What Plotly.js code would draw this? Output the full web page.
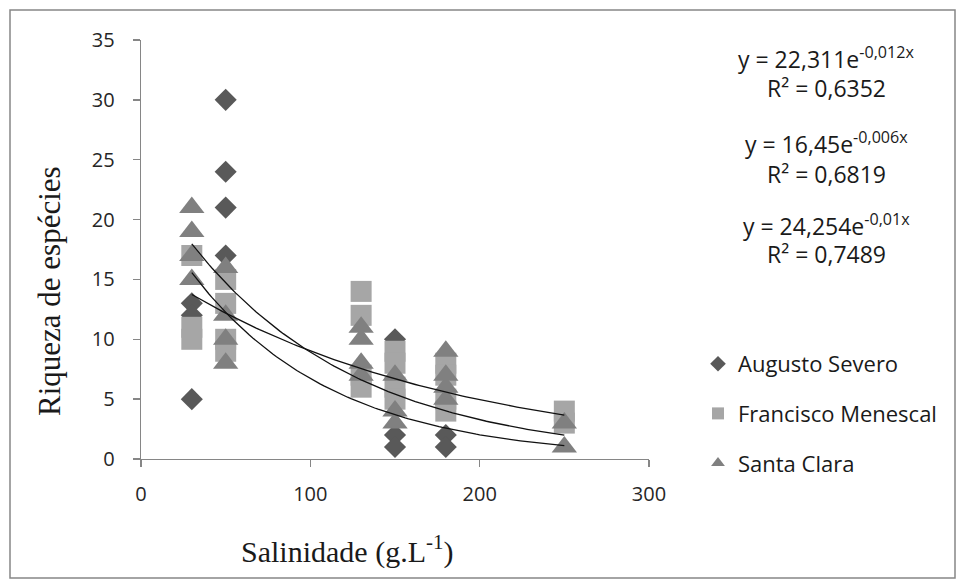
<!DOCTYPE html>
<html>
<head>
<meta charset="utf-8">
<script src="https://cdn.plot.ly/plotly-3.0.1.min.js"></script>
<style>
html,body{margin:0;padding:0;background:#fff;}
#chart{width:957px;height:581px;}
</style>
</head>
<body>
<div id="chart"></div>
<script>
// ---- data ----
const seriesNames = ["Augusto Severo", "Francisco Menescal", "Santa Clara"];

const augustoX = [30, 30, 30, 50, 50, 50, 50, 150, 150, 150, 180, 180];
const augustoY = [13, 12, 5, 30, 24, 21, 17, 10, 2, 1, 2, 1];

const franciscoX = [30, 30, 30, 50, 50, 50, 50, 130, 130, 130, 130, 150, 150, 150, 150, 180, 180, 180, 180, 250, 250];
const franciscoY = [17, 11, 10, 15, 13, 10, 9, 14, 12, 7, 6, 9, 8, 6, 5, 8, 7, 5, 4, 4, 3];

const santaX = [30, 30, 30, 30, 50, 50, 50, 50, 130, 130, 130, 130, 150, 150, 150, 180, 180, 180, 180, 250, 250];
const santaY = [21, 19, 17, 15, 16, 12, 10, 8, 11, 10, 8, 7, 7, 4, 3, 9, 7, 6, 5, 3, 1];

// exponential trendline coefficients printed on the chart (y = a * e^(b x))
const fitA = [22.311, 16.45, 24.254];
const fitB = [-0.012, -0.006, -0.01];
const fitR2 = ["0,6352", "0,6819", "0,7489"];
const fitLabelA = ["22,311", "16,45", "24,254"];
const fitLabelB = ["-0,012x", "-0,006x", "-0,01x"];
const fitRange = [30, 250];

const xTicks = [0, 100, 200, 300];
const yTicks = [0, 5, 10, 15, 20, 25, 30, 35];

// ---- styling ----
const colors = ["#595959", "#a6a6a6", "#808080"];
const symbols = ["diamond", "square", "triangle-up"];
const sizes = [17, 21, 22];

// pixel helpers (plot area: x 141..649, y 40..459)
const L = 141, R = 649, T = 40, B = 459;
const W = 957, H = 581;
const px = v => (v - L) / (R - L);
const py = v => (B - v) / (B - T);

const traces = [];
const xs = [augustoX, franciscoX, santaX];
const ys = [augustoY, franciscoY, santaY];
for (let i = 0; i < 3; i++) {
  traces.push({
    type: "scatter", mode: "markers", name: seriesNames[i],
    x: xs[i], y: ys[i], legendgroup: "g" + i,
    marker: {symbol: symbols[i], size: sizes[i], color: colors[i], line: {width: 0}},
    hoverinfo: "x+y"
  });
}
for (let i = 0; i < 3; i++) {
  const tx = [], ty = [];
  for (let x = fitRange[0]; x <= fitRange[1]; x += 2) {
    tx.push(x); ty.push(fitA[i] * Math.exp(fitB[i] * x));
  }
  traces.push({
    type: "scatter", mode: "lines", x: tx, y: ty, showlegend: false,
    line: {color: "#111111", width: 1.3}, hoverinfo: "skip"
  });
}

const eqFont = {family: "Open Sans, sans-serif", size: 23, color: "#1a1a1a"};
const eqY = [[58, 88], [143, 174], [225, 254]];
const annotations = [];
for (let i = 0; i < 3; i++) {
  annotations.push({
    xref: "paper", yref: "paper", x: px(826), y: py(eqY[i][0]),
    xanchor: "center", yanchor: "middle", showarrow: false,
    text: "y = " + fitLabelA[i] + "e<sup>" + fitLabelB[i] + "</sup>", font: eqFont
  });
  annotations.push({
    xref: "paper", yref: "paper", x: px(826), y: py(eqY[i][1]),
    xanchor: "center", yanchor: "middle", showarrow: false,
    text: "R² = " + fitR2[i], font: eqFont
  });
}
annotations.push({
  xref: "paper", yref: "paper", x: px(347), y: py(549),
  xanchor: "center", yanchor: "middle", showarrow: false,
  text: "Salinidade (g.L<sup>-1</sup>)",
  font: {family: "Liberation Serif, Times New Roman, serif", size: 30, color: "#1a1a1a"}
});
annotations.push({
  xref: "paper", yref: "paper", x: px(49), y: py(291),
  xanchor: "center", yanchor: "middle", showarrow: false, textangle: -90,
  text: "Riqueza de espécies",
  font: {family: "Liberation Serif, Times New Roman, serif", size: 31, color: "#1a1a1a"}
});

const tickFont = {family: "Open Sans, sans-serif", size: 20, color: "#262626"};
const layout = {
  width: W, height: H,
  margin: {l: L, r: W - R, t: T, b: H - B, pad: 0, autoexpand: false},
  paper_bgcolor: "#ffffff", plot_bgcolor: "#ffffff",
  showlegend: true,
  legend: {
    x: px(698), xanchor: "left", y: py(343), yanchor: "top",
    font: {family: "Open Sans, sans-serif", size: 22, color: "#1a1a1a"},
    itemsizing: "constant", tracegroupgap: 18, bgcolor: "rgba(0,0,0,0)"
  },
  xaxis: {
    range: [0, 300], tickvals: xTicks, ticktext: xTicks.map(String),
    showgrid: false, zeroline: false, showline: true, linecolor: "#868686", linewidth: 1.3,
    ticks: "outside", ticklen: 7, tickcolor: "#868686", tickwidth: 1.3,
    tickfont: tickFont, ticklabelstandoff: 10, fixedrange: true
  },
  yaxis: {
    range: [0, 35], tickvals: yTicks, ticktext: yTicks.map(String),
    showgrid: false, zeroline: false, showline: true, linecolor: "#868686", linewidth: 1.3,
    ticks: "outside", ticklen: 7, tickcolor: "#868686", tickwidth: 1.3,
    tickfont: tickFont, ticklabelstandoff: 14, fixedrange: true
  },
  annotations: annotations,
  shapes: [{
    type: "rect", xref: "paper", yref: "paper", layer: "below",
    x0: px(10), x1: px(955), y0: py(578), y1: py(10),
    line: {color: "#868686", width: 1.5}, fillcolor: "rgba(0,0,0,0)"
  }]
};

Plotly.newPlot("chart", traces, layout, {displayModeBar: false, staticPlot: true});
</script>
</body>
</html>
